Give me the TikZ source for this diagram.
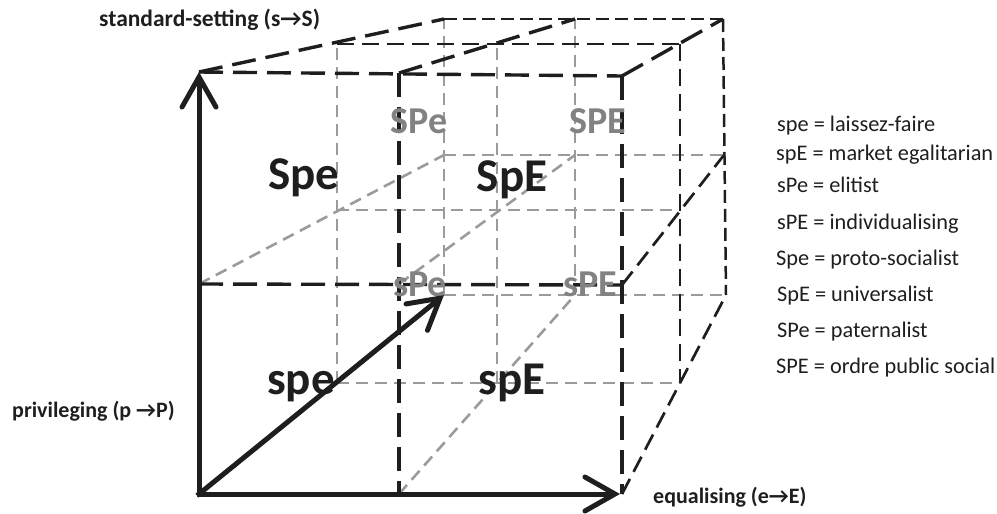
\documentclass[tikz,border=0pt]{standalone}
\usepackage{fontspec}
\setmainfont{Carlito}
\usetikzlibrary{arrows.meta}
\definecolor{ink}{RGB}{30,30,30}
\definecolor{lgray}{RGB}{155,155,155}
\definecolor{lbl}{RGB}{130,130,130}
\begin{document}
\begin{tikzpicture}[x=1pt,y=-1pt,
  blkL/.style={ink, line width=3.4pt, dash pattern=on 24pt off 10pt},
  blkM/.style={ink, line width=2.7pt, dash pattern=on 17pt off 8pt},
  blkS/.style={ink, line width=2.5pt, dash pattern=on 13pt off 6pt},
  gry/.style={lgray, line width=2.6pt, dash pattern=on 12pt off 7pt},
  axis/.style={ink, line width=5pt, line cap=rect, -{Straight Barb[length=30pt,width=34pt,line cap=round]}},
  big/.style={font=\fontsize{47}{47}\selectfont\bfseries, text=ink, inner sep=0pt, anchor=base},
  glbl/.style={font=\fontsize{38}{38}\selectfont\bfseries, text=lbl, inner sep=0pt, anchor=base},
  leg/.style={font=\fontsize{22.3}{22.3}\selectfont, text=ink, anchor=base west, inner sep=0pt},
  axl/.style={font=\fontsize{22}{22}\selectfont\bfseries, text=ink, anchor=base west, inner sep=0pt}]
\useasboundingbox (0,0) rectangle (997,514);
% front layer
\coordinate (F00) at (199,494); \coordinate (F10) at (399,494); \coordinate (F20) at (622,494);
\coordinate (F01) at (199,284); \coordinate (F11) at (399,284); \coordinate (F21) at (622,285);
\coordinate (F02) at (199,72);  \coordinate (F12) at (399,73);  \coordinate (F22) at (622,76);
% middle layer
\coordinate (M00) at (337,383); \coordinate (M10) at (497,383); \coordinate (M20) at (680,383);
\coordinate (M01) at (337,210); \coordinate (M11) at (497,210); \coordinate (M21) at (680,210);
\coordinate (M02) at (337,44);  \coordinate (M12) at (497,44);  \coordinate (M22) at (680,44);
% back layer
\coordinate (B00) at (444,295); \coordinate (B10) at (575,295); \coordinate (B20) at (726,295);
\coordinate (B01) at (444,155); \coordinate (B11) at (575,155); \coordinate (B21) at (724,155);
\coordinate (B02) at (444,19);  \coordinate (B12) at (575,19);  \coordinate (B22) at (723,19);
\coordinate (Fend) at (620,494);
% hidden (grey) lines
\draw[gry] (M00) -- (M20);
\draw[gry] (M01) -- (M21);
\draw[gry] (M00) -- (M02);
\draw[gry] (M10) -- (M12);
\draw[gry] (B00) -- (B20);
\draw[gry] (B01) -- (B21);
\draw[gry] (B00) -- (B02);
\draw[gry] (B10) -- (B12);
\draw[gry] (F10) -- (B10);
\draw[gry] (F01) -- (B01);
\draw[gry] (F11) -- (B11);
% visible (black) dashed lines
\draw[blkL] (F02) -- (F22);
\draw[blkL] (F01) -- (F21);
\draw[blkL] (F12) -- (F10);
\draw[blkL] (F22) -- (F20);
\draw[blkL] (F02) -- (B02);
\draw[blkL] (F12) -- (B12);
\draw[blkL] (F22) -- (B22);
\draw[blkM] (F21) -- (B21);
\draw[blkM] (F20) -- (B20);
\draw[blkM] (M02) -- (M22);
\draw[blkM] (M22) -- (M20);
\draw[blkS] (B02) -- (B22);
\draw[blkS] (B22) -- (B20);
% cell labels
\node[big] (lSpe) at (304,189) {Spe};
\node[big] (lSpE) at (512,191) {SpE};
\node[big] (lspe) at (301,394) {spe};
\node[big] (lspE) at (512,394) {spE};
\node[glbl] (lSPe) at (419,133) {SPe};
\node[glbl] (lSPE) at (598,133) {SPE};
\node[glbl] (lsPe) at (420,296) {sPe};
\node[glbl] (lsPE) at (590,296) {sPE};
% axes
\draw[axis] (F00) -- (F02);
\draw[axis] (F00) -- (Fend);
\draw[axis] (F00) -- (B00);
% axis labels
\node[axl, font=\fontsize{23.5}{23.5}\selectfont\bfseries] (ax1) at (99,26) {standard-setting (s→S)};
\node[axl] (ax2) at (12,417) {privileging (p →P)};
\node[axl] (ax3) at (653,503) {equalising (e→E)};
% legend
\node[leg] (g1) at (777,131) {spe = laissez-faire};
\node[leg] (g2) at (776,160) {spE = market egalitarian};
\node[leg] (g3) at (777,192) {sPe = elitist};
\node[leg] (g4) at (777,229) {sPE = individualising};
\node[leg] (g5) at (776,265) {Spe = proto-socialist};
\node[leg] (g6) at (777,301) {SpE = universalist};
\node[leg] (g7) at (777,337) {SPe = paternalist};
\node[leg] (g8) at (776,373) {SPE = ordre public social};
\end{tikzpicture}
\end{document}
